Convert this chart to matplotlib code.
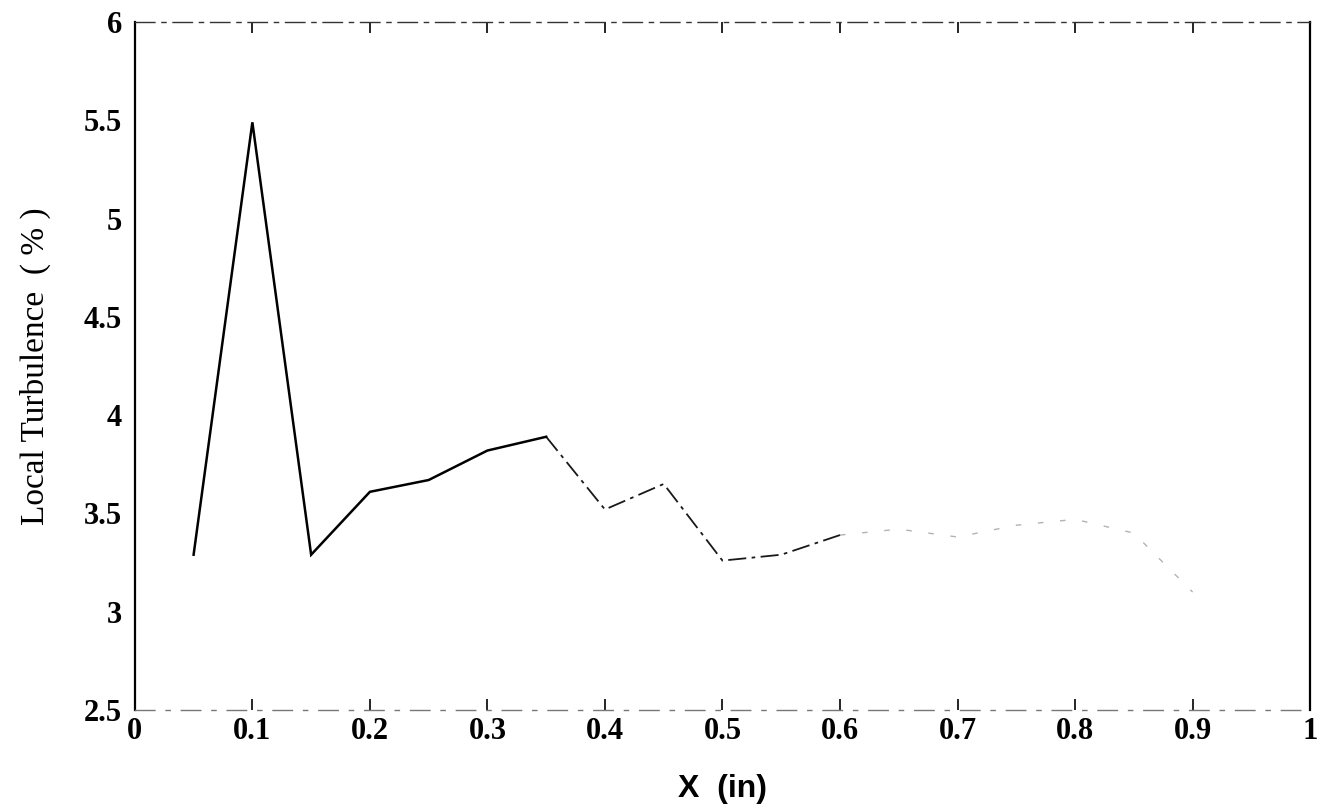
import matplotlib
matplotlib.use("Agg")
import matplotlib.pyplot as plt
import numpy as np

# ---- data ----
x_in = [0.05, 0.10, 0.15, 0.20, 0.25, 0.30, 0.35, 0.40, 0.45, 0.50,
        0.55, 0.60, 0.65, 0.70, 0.75, 0.80, 0.85, 0.90]
turb = [3.29, 5.49, 3.29, 3.61, 3.67, 3.82, 3.89, 3.52, 3.65, 3.26,
        3.29, 3.39, 3.42, 3.38, 3.44, 3.47, 3.40, 3.10]
x_ticks = [0, 0.1, 0.2, 0.3, 0.4, 0.5, 0.6, 0.7, 0.8, 0.9, 1.0]
x_tick_labels = ["0", "0.1", "0.2", "0.3", "0.4", "0.5", "0.6", "0.7", "0.8", "0.9", "1"]
y_ticks = [2.5, 3, 3.5, 4, 4.5, 5, 5.5, 6]
y_tick_labels = ["2.5", "3", "3.5", "4", "4.5", "5", "5.5", "6"]

fig = plt.figure(figsize=(13.22, 8.07), dpi=100)
ax = fig.add_axes([0.102, 0.1202, 0.889, 0.8525])

xs = np.array(x_in)
ys = np.array(turb)
# solid, dark first part
ax.plot(xs[:7], ys[:7], color="black", lw=1.8, solid_joinstyle="miter")
# scanned-looking broken middle part
ax.plot(xs[6:12], ys[6:12], color="black", lw=1.3,
        linestyle=(0, (10, 3, 2, 3)), alpha=0.9)
# very faint tail
ax.plot(xs[11:], ys[11:], color="black", lw=1.0,
        linestyle=(0, (4, 12)), alpha=0.3)

ax.set_xlim(0, 1)
ax.set_ylim(2.5, 6)
ax.set_xticks(x_ticks)
ax.set_xticklabels(x_tick_labels)
ax.set_yticks(y_ticks)
ax.set_yticklabels(y_tick_labels)

for lab in ax.get_xticklabels() + ax.get_yticklabels():
    lab.set_fontfamily("Liberation Serif")
    lab.set_fontweight("bold")
    lab.set_fontsize(22)

ax.tick_params(axis="x", direction="in", length=8, width=1.2, top=True,
               bottom=True, pad=5)
ax.tick_params(axis="y", length=0, pad=9)

ax.spines["left"].set_linewidth(1.6)
ax.spines["right"].set_linewidth(1.6)
ax.spines["top"].set_linewidth(1.0)
ax.spines["top"].set_linestyle((0, (14, 5, 3, 5)))
ax.spines["top"].set_color("#333333")
ax.spines["bottom"].set_linewidth(1.0)
ax.spines["bottom"].set_linestyle((0, (14, 8, 3, 8)))
ax.spines["bottom"].set_color("#777777")

ax.set_ylabel("Local Turbulence  ( % )", family="Liberation Serif",
              fontsize=24, labelpad=24)
ax.set_xlabel("X  (in)", family="Liberation Sans", weight="bold",
              fontsize=23, labelpad=20)

fig.savefig("out.png", dpi=100, facecolor="white")
